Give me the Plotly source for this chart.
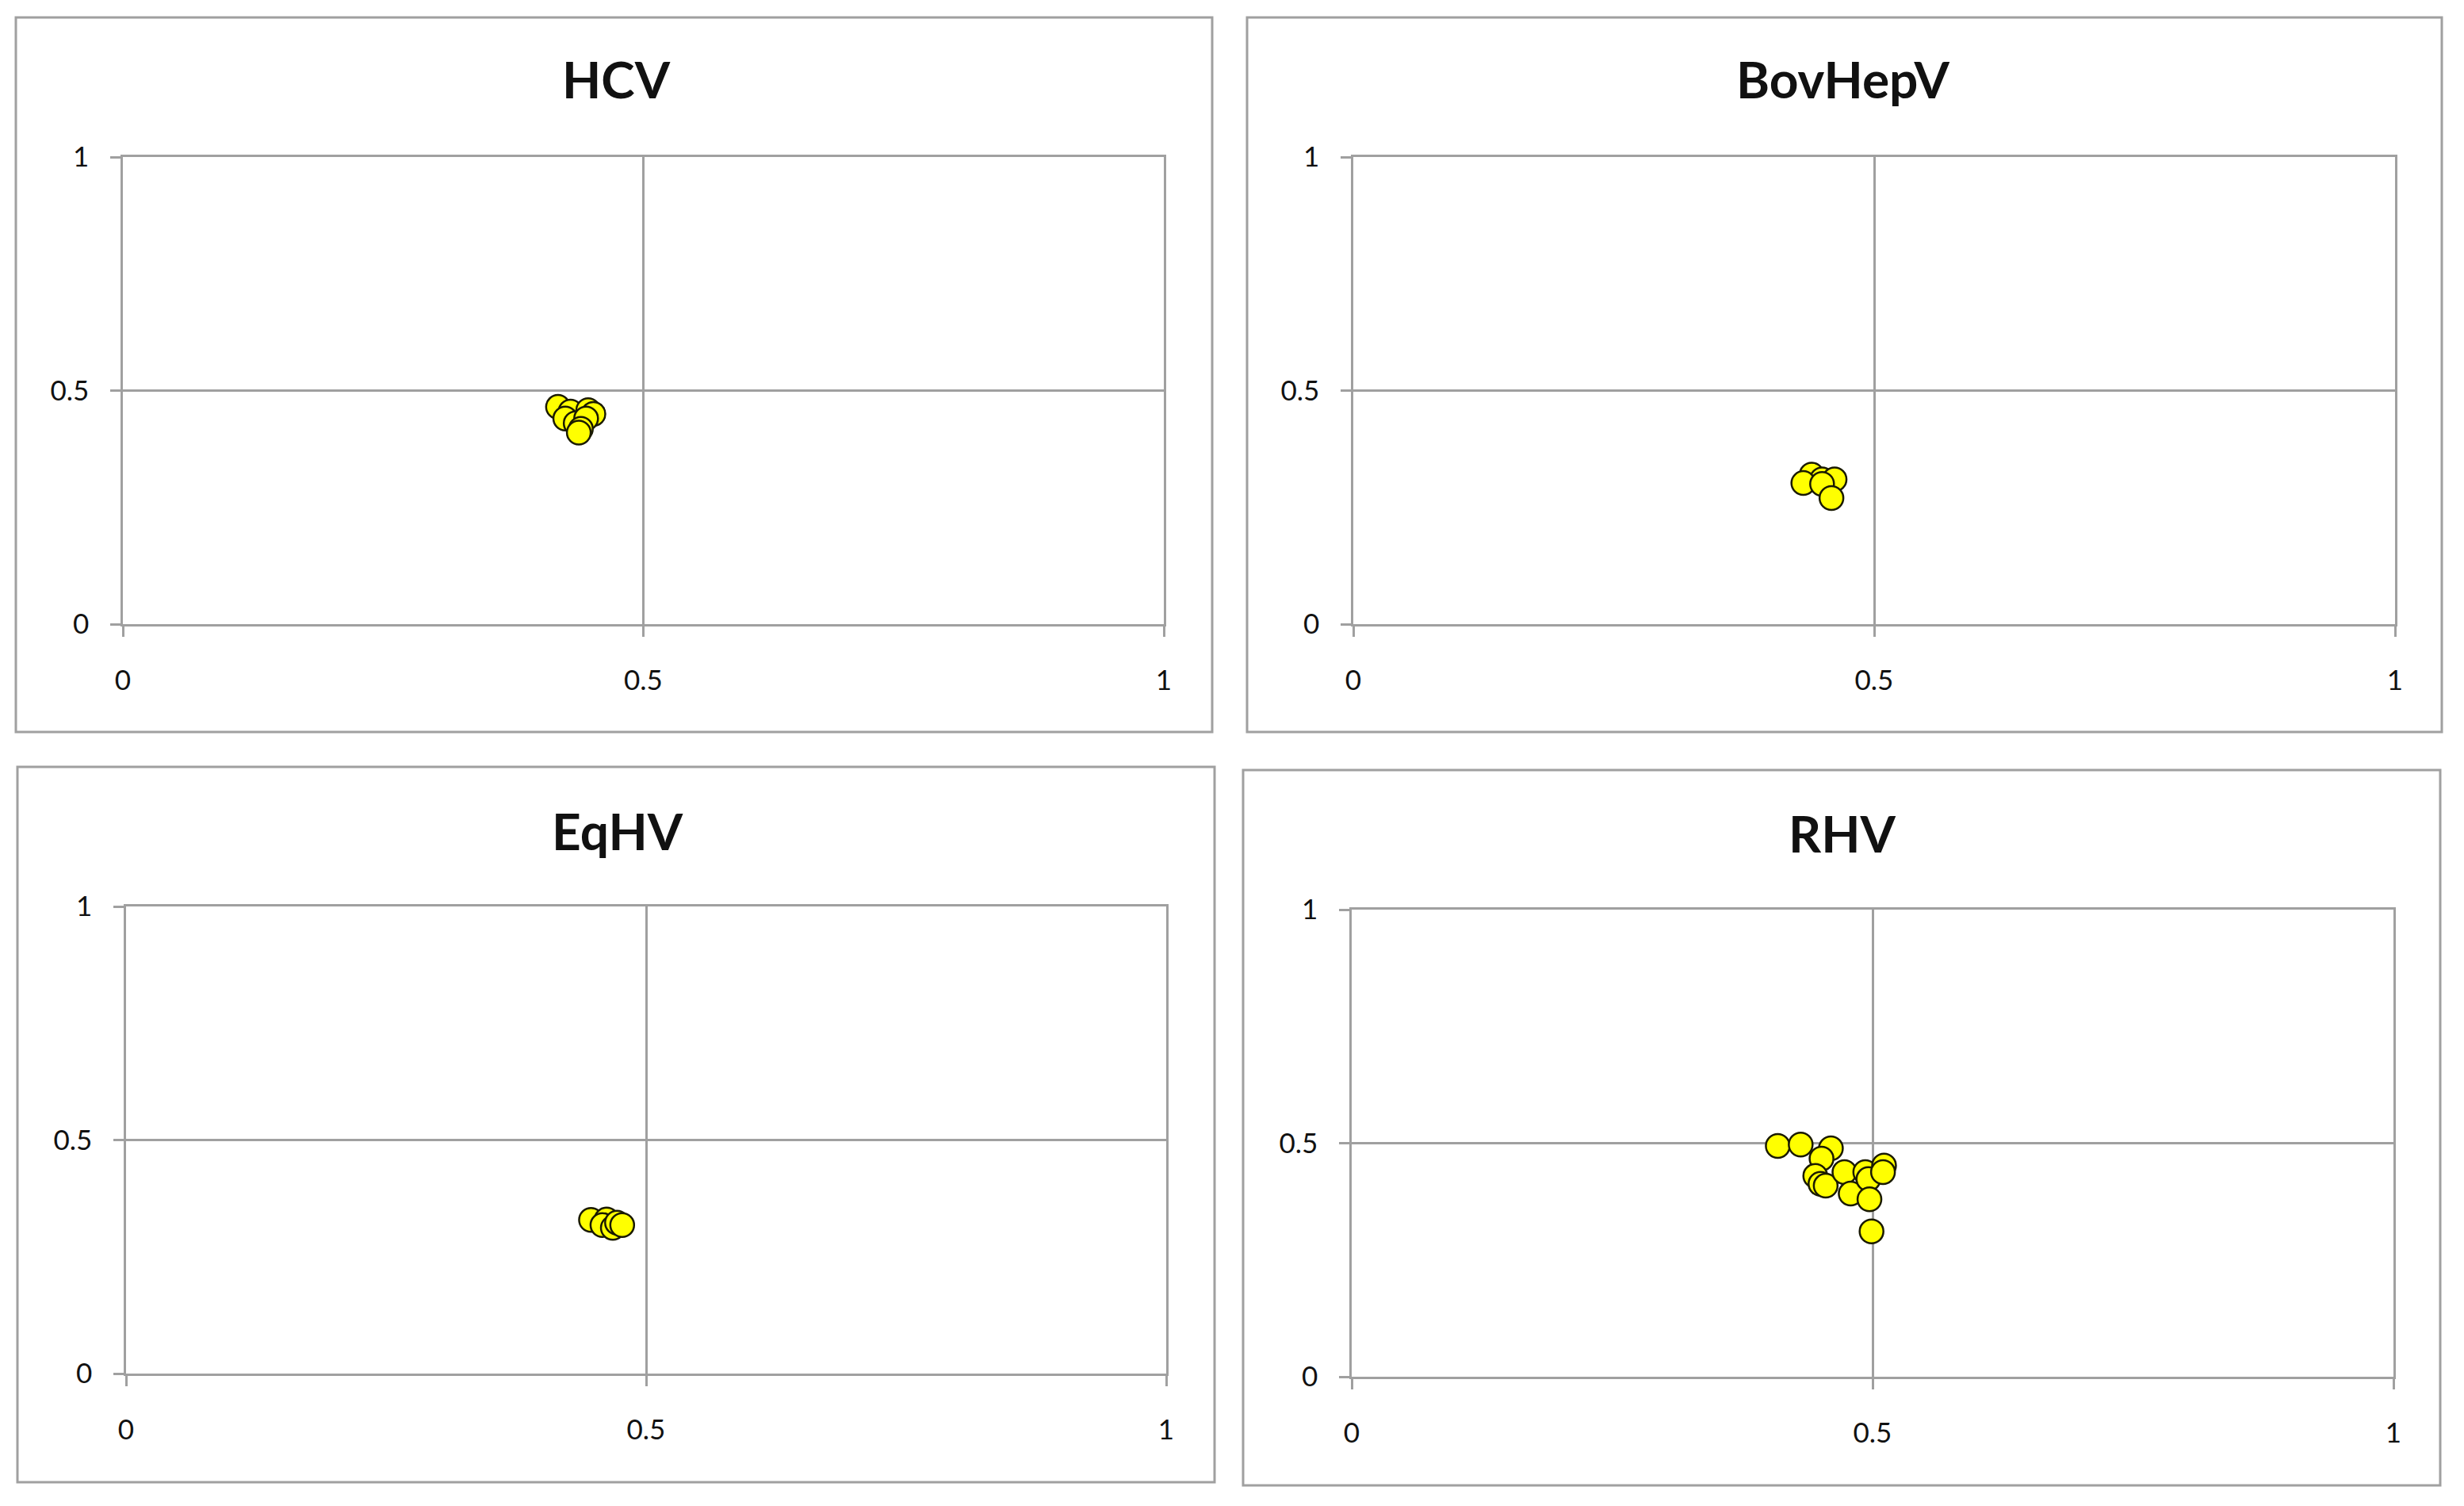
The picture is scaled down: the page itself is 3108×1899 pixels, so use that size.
import plotly.graph_objects as go

W, H = 3108, 1899
OFF = 8                      # default page body margin
FW, FH = W - 2 * OFF, H - 2 * OFF

titles = ["HCV", "BovHepV", "EqHV", "RHV"]

hcv_x = [0.418, 0.430, 0.425, 0.447, 0.452, 0.435, 0.445, 0.440, 0.438]
hcv_y = [0.465, 0.455, 0.440, 0.458, 0.450, 0.430, 0.440, 0.418, 0.410]

bov_x = [0.440, 0.450, 0.462, 0.432, 0.450, 0.459]
bov_y = [0.320, 0.310, 0.310, 0.302, 0.300, 0.270]

eqh_x = [0.447, 0.462, 0.458, 0.468, 0.472, 0.477]
eqh_y = [0.329, 0.330, 0.318, 0.312, 0.323, 0.318]

rhv_x = [0.409, 0.431, 0.460, 0.451, 0.445, 0.450, 0.455, 0.473, 0.479, 0.493,
         0.496, 0.511, 0.510, 0.497, 0.499]
rhv_y = [0.494, 0.497, 0.489, 0.467, 0.430, 0.413, 0.409, 0.438, 0.392, 0.438,
         0.423, 0.452, 0.438, 0.380, 0.311]

tick_vals = [0, 0.5, 1]
tick_text = ["0", "0.5", "1"]

series = [(hcv_x, hcv_y), (bov_x, bov_y), (eqh_x, eqh_y), (rhv_x, rhv_y)]

# page-pixel layout of each panel: plot area (x0, x1, ytop, ybot), box, title center
plot_px = [(155, 1468, 198, 787), (1707, 3021, 198, 787),
           (159, 1471, 1143, 1732), (1705, 3019, 1147, 1736)]
box_px = [(20, 1529, 22, 923), (1573, 3080, 22, 923),
          (22, 1532, 967, 1869), (1568, 3078, 971, 1873)]
title_px = [(777, 99), (2325, 99), (779, 1047), (2323, 1050)]


def px(x):
    return (x - OFF) / FW


def py(y):
    return 1 - (y - OFF) / FH


GRID = "#a0a0a0"
FONT = "Lato"

fig = go.Figure()
layout = dict(width=FW, height=FH, margin=dict(l=0, r=0, t=0, b=0, autoexpand=False),
              paper_bgcolor="white", plot_bgcolor="white", showlegend=False,
              template="none", shapes=[], annotations=[])

for i, ((xs, ys), (x0, x1, yt, yb)) in enumerate(zip(series, plot_px)):
    n = "" if i == 0 else str(i + 1)
    fig.add_trace(go.Scatter(
        x=xs, y=ys, mode="markers", xaxis="x" + n, yaxis="y" + n,
        marker=dict(size=30, color="#ffff00", line=dict(color="#1a1a00", width=2.5)),
    ))
    common = dict(range=[0, 1], tickvals=tick_vals, ticktext=tick_text,
                  showgrid=True, gridcolor=GRID, gridwidth=2.5,
                  showline=True, linecolor=GRID, linewidth=2.5, mirror=True,
                  ticks="outside", ticklen=13, tickwidth=2.5, tickcolor=GRID,
                  zeroline=False, fixedrange=True, automargin=False,
                  tickfont=dict(family=FONT, size=35, color="#111111"))
    layout["xaxis" + n] = dict(common, domain=[px(x0), px(x1)],
                               anchor="y" + n, ticklabelstandoff=25)
    layout["yaxis" + n] = dict(common, domain=[py(yb), py(yt)],
                               anchor="x" + n, ticklabelstandoff=20)
    bx0, bx1, by0, by1 = box_px[i]
    layout["shapes"].append(dict(type="rect", xref="paper", yref="paper",
                                 x0=px(bx0), x1=px(bx1), y0=py(by1), y1=py(by0),
                                 line=dict(color=GRID, width=3), layer="below"))
    tx, ty = title_px[i]
    layout["annotations"].append(dict(text="<b>" + titles[i] + "</b>", xref="paper", yref="paper",
                                      x=px(tx), y=py(ty), showarrow=False,
                                      xanchor="center", yanchor="middle",
                                      font=dict(family=FONT, size=64, color="#111111")))

fig.update_layout(**layout)
fig.write_html("out.html")
